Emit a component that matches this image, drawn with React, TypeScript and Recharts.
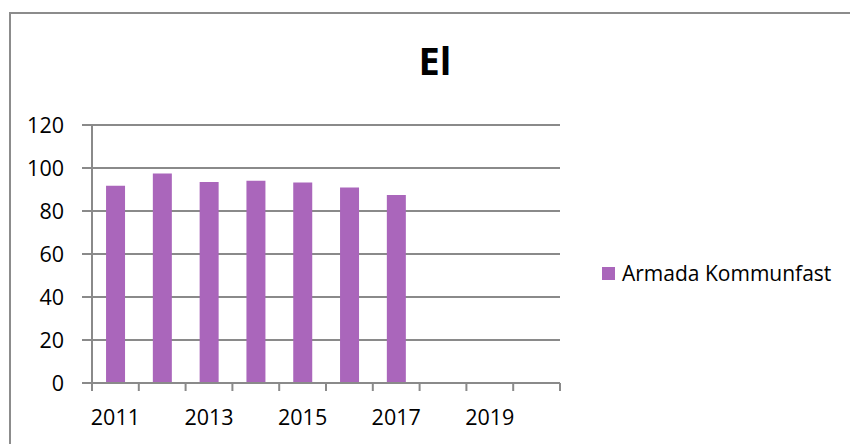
import * as React from "react";
import { BarChart, Bar, XAxis, YAxis, CartesianGrid, Legend } from "recharts";

const years = ["2011", "2012", "2013", "2014", "2015", "2016", "2017", "2018", "2019", "2020"];
const values = [91.8, 97.4, 93.5, 94.1, 93.3, 90.9, 87.4];
const yTicks = [0, 20, 40, 60, 80, 100, 120];
const seriesName = "Armada Kommunfast";
const title = "El";

const data = years.map((year, i) => ({
  year,
  value: i < values.length ? values[i] : null,
}));

const GRID = "#8a8a8a";
const PURPLE = "#aa66bb";
const FONT = "'Open Sans', sans-serif";

// tick lines sit on the category boundaries, labels on every other category
function YearTick(props: any) {
  const { x, y, index, payload, width, visibleTicksCount } = props;
  const count = visibleTicksCount || years.length;
  const half = width ? width / count / 2 : payload?.offset || 0;
  const last = index === count - 1;
  return (
    <g>
      <line x1={x - half} x2={x - half} y1={y} y2={y + 8} stroke={GRID} strokeWidth={2} />
      {last && <line x1={x + half} x2={x + half} y1={y} y2={y + 8} stroke={GRID} strokeWidth={2} />}
      {index % 2 === 0 && (
        <text x={x} y={y + 42} textAnchor="middle" fontSize={21.5} fontFamily={FONT} fill="#000">
          {payload.value}
        </text>
      )}
    </g>
  );
}

function LegendBox() {
  return (
    <div style={{ width: 272, height: 20, paddingLeft: 42, boxSizing: "border-box", display: "flex", alignItems: "center" }}>
      <span style={{ width: 13, height: 13, background: PURPLE, display: "inline-block", marginRight: 7, flexShrink: 0 }} />
      <span style={{ fontFamily: FONT, fontSize: 21, lineHeight: "20px", color: "#000", whiteSpace: "nowrap" }}>
        {seriesName}
      </span>
    </div>
  );
}

export default function App() {
  return (
    <div style={{ position: "absolute", left: 0, top: 0, width: 850, height: 444, overflow: "hidden", background: "#fff" }}>
      <div
        style={{
          position: "absolute",
          left: 9,
          top: 12,
          width: 900,
          height: 500,
          border: "2px solid #8c8c8c",
        }}
      />
      <div
        style={{
          position: "absolute",
          left: 0,
          width: 870,
          top: 34,
          textAlign: "center",
          fontFamily: FONT,
          fontWeight: 700,
          fontSize: 38,
          lineHeight: "52px",
          color: "#000",
        }}
      >
        {title}
      </div>
      <div style={{ position: "absolute", left: 0, top: 0 }}>
        <BarChart
          width={850}
          height={444}
          data={data}
          margin={{ top: 125, right: 18, bottom: 0, left: 0 }}
          barCategoryGap="30%"
        >
          <CartesianGrid vertical={false} stroke={GRID} strokeWidth={2} />
          <XAxis
            dataKey="year"
            interval={0}
            height={61}
            tickLine={false}
            tickSize={0}
            tickMargin={0}
            axisLine={{ stroke: GRID, strokeWidth: 2 }}
            tick={<YearTick />}
          />
          <YAxis
            width={92}
            domain={[0, 120]}
            ticks={yTicks}
            interval={0}
            tickSize={10}
            tickMargin={18}
            axisLine={{ stroke: GRID, strokeWidth: 2 }}
            tickLine={{ stroke: GRID, strokeWidth: 2 }}
            tick={{ fontSize: 21.5, fontFamily: FONT, fill: "#000" }}
          />
          <Legend
            layout="vertical"
            align="right"
            verticalAlign="top"
            wrapperStyle={{ top: 263 }}
            content={() => <LegendBox />}
          />
          <Bar dataKey="value" name={seriesName} fill={PURPLE} isAnimationActive={false} />
        </BarChart>
      </div>
    </div>
  );
}
